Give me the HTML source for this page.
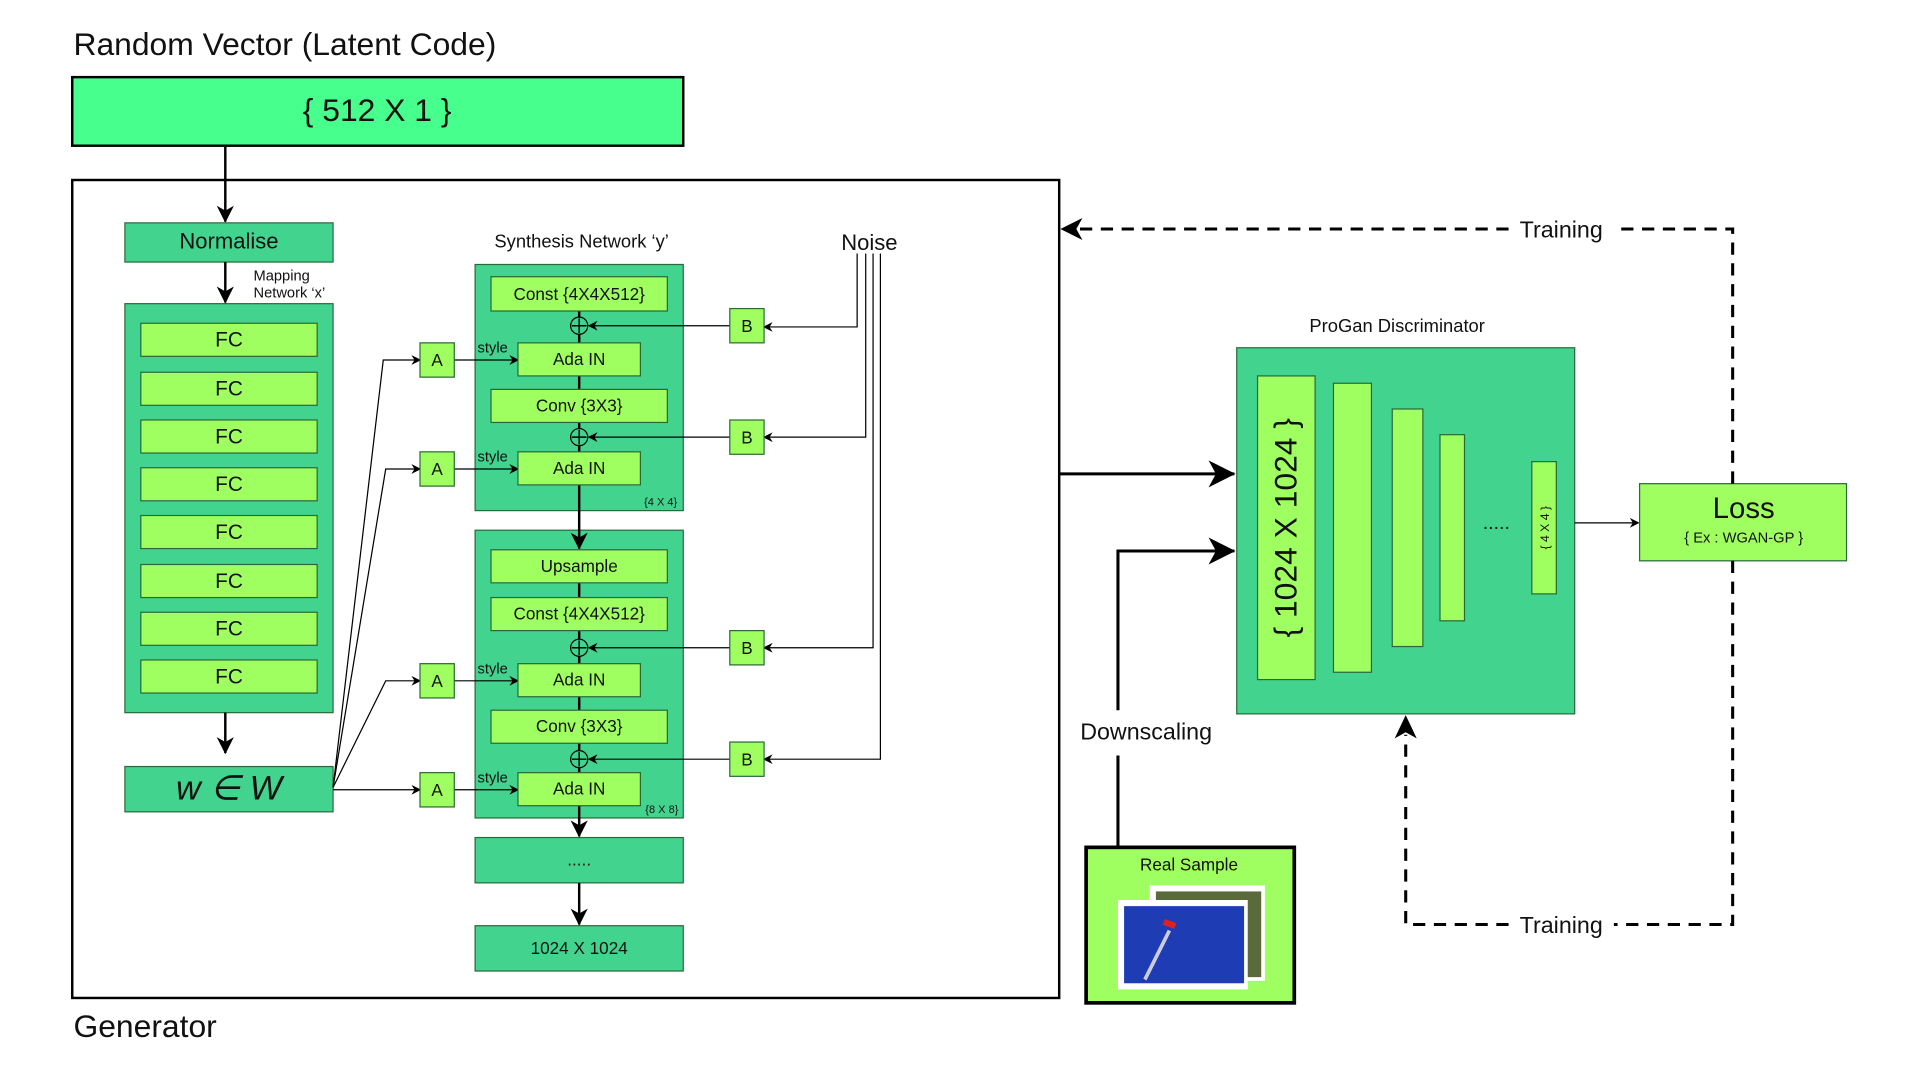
<!DOCTYPE html>
<html><head><meta charset="utf-8"><style>
html,body{margin:0;padding:0;background:#fff;}
svg{display:block;}
text{font-family:"Liberation Sans",sans-serif;fill:#111;}
</style></head><body>
<svg width="1920" height="1080" viewBox="0 0 1568 882" xmlns="http://www.w3.org/2000/svg">
<defs>
<marker id="a" markerWidth="8" markerHeight="8" refX="7" refY="4" orient="auto" markerUnits="userSpaceOnUse"><path d="M0,0 L8,4 L0,8 L2.5,4 Z" fill="#000"/></marker>
<marker id="b" markerWidth="14" markerHeight="14" refX="13" refY="7" orient="auto" markerUnits="userSpaceOnUse"><path d="M0,0 L14,7 L0,14 L4,7 Z" fill="#000"/></marker>
<marker id="c" markerWidth="22" markerHeight="22" refX="21" refY="11" orient="auto" markerUnits="userSpaceOnUse"><path d="M0,0 L22,11 L0,22 L6,11 Z" fill="#000"/></marker>
</defs>
<g font-size="26">
<text x="60" y="45">Random Vector (Latent Code)</text>
<text x="60" y="847">Generator</text>
</g>
<rect x="59" y="63" width="499" height="56" fill="#46ff8c" stroke="#000" stroke-width="2"/>
<text x="308" y="99" font-size="26" text-anchor="middle">{ 512 X 1 }</text>
<line x1="184" y1="120" x2="184" y2="181" stroke="#000" stroke-width="2" marker-end="url(#b)"/>
<rect x="59" y="147" width="806" height="668" fill="none" stroke="#000" stroke-width="2"/>

<g stroke="#2a6a3a" stroke-width="1">
<rect x="102" y="182" width="170" height="32" fill="#42d48f"/>
<rect x="102" y="248" width="170" height="334" fill="#42d48f"/>
<rect x="102" y="626" width="170" height="37" fill="#42d48f"/>
<rect x="388" y="216" width="170" height="201" fill="#42d48f"/>
<rect x="388" y="433" width="170" height="235" fill="#42d48f"/>
<rect x="388" y="684" width="170" height="37" fill="#42d48f"/>
<rect x="388" y="756" width="170" height="37" fill="#42d48f"/>
<rect x="1010" y="284" width="276" height="299" fill="#42d48f"/>
</g>
<text x="187" y="203" font-size="18" text-anchor="middle">Normalise</text>
<line x1="184" y1="214" x2="184" y2="247" stroke="#000" stroke-width="2" marker-end="url(#b)"/>
<text x="207" y="229" font-size="12">Mapping</text>
<text x="207" y="243" font-size="12">Network ‘x’</text>
<g fill="#a0ff60" stroke="#2a6a3a" stroke-width="1">
<rect x="115" y="264" width="144" height="27"/>
<rect x="115" y="304" width="144" height="27"/>
<rect x="115" y="343" width="144" height="27"/>
<rect x="115" y="382" width="144" height="27"/>
<rect x="115" y="421" width="144" height="27"/>
<rect x="115" y="461" width="144" height="27"/>
<rect x="115" y="500" width="144" height="27"/>
<rect x="115" y="539" width="144" height="27"/>
</g>
<g font-size="17" text-anchor="middle">
<text x="187" y="283">FC</text><text x="187" y="323">FC</text><text x="187" y="362">FC</text><text x="187" y="401">FC</text>
<text x="187" y="440">FC</text><text x="187" y="480">FC</text><text x="187" y="519">FC</text><text x="187" y="558">FC</text>
</g>
<line x1="184" y1="582" x2="184" y2="615" stroke="#000" stroke-width="2" marker-end="url(#b)"/>
<text x="187" y="653" font-size="28" text-anchor="middle" font-style="italic">w ∈ W</text>

<g stroke="#000" stroke-width="1" fill="none" marker-end="url(#a)">
<polyline points="272,643 313,294 343,294"/>
<polyline points="272,643 315,383 343,383"/>
<polyline points="272,643 315,556 343,556"/>
<polyline points="272,645 343,645"/>
<line x1="371" y1="294" x2="423" y2="294"/>
<line x1="371" y1="383" x2="423" y2="383"/>
<line x1="371" y1="556" x2="423" y2="556"/>
<line x1="371" y1="645" x2="423" y2="645"/>
<line x1="596" y1="266" x2="481" y2="266"/>
<line x1="596" y1="357" x2="481" y2="357"/>
<line x1="596" y1="529" x2="481" y2="529"/>
<line x1="596" y1="620" x2="481" y2="620"/>
<polyline points="700,207 700,267 624,267"/>
<polyline points="707,207 707,357 624,357"/>
<polyline points="713,207 713,529 624,529"/>
<polyline points="719,207 719,620 624,620"/>
</g>
<g fill="#a0ff60" stroke="#2a6a3a" stroke-width="1">
<rect x="343" y="280" width="28" height="28"/><rect x="343" y="369" width="28" height="28"/>
<rect x="343" y="542" width="28" height="28"/><rect x="343" y="631" width="28" height="28"/>
<rect x="596" y="252" width="28" height="28"/><rect x="596" y="343" width="28" height="28"/>
<rect x="596" y="515" width="28" height="28"/><rect x="596" y="606" width="28" height="28"/>
</g>
<g font-size="14" text-anchor="middle">
<text x="357" y="299">A</text><text x="357" y="388">A</text><text x="357" y="561">A</text><text x="357" y="650">A</text>
<text x="610" y="271">B</text><text x="610" y="362">B</text><text x="610" y="534">B</text><text x="610" y="625">B</text>
</g>
<text x="710" y="204" font-size="18" text-anchor="middle">Noise</text>
<text x="475" y="202" font-size="15" text-anchor="middle">Synthesis Network ‘y’</text>

<g stroke="#000" stroke-width="2">
<line x1="473" y1="254" x2="473" y2="280"/><line x1="473" y1="307" x2="473" y2="318"/>
<line x1="473" y1="345" x2="473" y2="369"/>
<line x1="473" y1="476" x2="473" y2="488"/><line x1="473" y1="515" x2="473" y2="542"/>
<line x1="473" y1="569" x2="473" y2="580"/><line x1="473" y1="607" x2="473" y2="631"/>
</g>
<g stroke="#000" stroke-width="2" marker-end="url(#b)">
<line x1="473" y1="396" x2="473" y2="448"/>
<line x1="473" y1="658" x2="473" y2="683"/>
<line x1="473" y1="721" x2="473" y2="755"/>
</g>
<g fill="#a0ff60" stroke="#2a6a3a" stroke-width="1">
<rect x="401" y="226" width="144" height="28"/><rect x="423" y="280" width="100" height="27"/>
<rect x="401" y="318" width="144" height="27"/><rect x="423" y="369" width="100" height="27"/>
<rect x="401" y="449" width="144" height="27"/><rect x="401" y="488" width="144" height="27"/>
<rect x="423" y="542" width="100" height="27"/><rect x="401" y="580" width="144" height="27"/>
<rect x="423" y="631" width="100" height="27"/>
</g>
<g fill="#42d48f" stroke="#000" stroke-width="1">
<circle cx="473" cy="266" r="7"/><circle cx="473" cy="357" r="7"/>
<circle cx="473" cy="529" r="7"/><circle cx="473" cy="620" r="7"/>
</g>
<g stroke="#000" stroke-width="1.2">
<path d="M467,266h12M473,260v12"/><path d="M467,357h12M473,351v12"/>
<path d="M467,529h12M473,523v12"/><path d="M467,620h12M473,614v12"/>
</g>
<g font-size="14" text-anchor="middle">
<text x="473" y="245">Const {4X4X512}</text><text x="473" y="298">Ada IN</text>
<text x="473" y="336">Conv {3X3}</text><text x="473" y="387">Ada IN</text>
<text x="473" y="467">Upsample</text><text x="473" y="506">Const {4X4X512}</text>
<text x="473" y="560">Ada IN</text><text x="473" y="598">Conv {3X3}</text>
<text x="473" y="649">Ada IN</text>
<text x="473" y="707">.....</text><text x="473" y="779">1024 X 1024</text>
</g>
<g font-size="12"><text x="390" y="288">style</text><text x="390" y="377">style</text><text x="390" y="550">style</text><text x="390" y="639">style</text></g>
<g font-size="9"><text x="526" y="413">{4 X 4}</text><text x="527" y="664">{8 X 8}</text></g>

<line x1="865" y1="387" x2="1008" y2="387" stroke="#000" stroke-width="2.5" marker-end="url(#c)"/>
<polyline points="913,580 913,450 1008,450" fill="none" stroke="#000" stroke-width="2.5" marker-end="url(#c)"/>
<line x1="913" y1="617" x2="913" y2="692" stroke="#000" stroke-width="2.5"/>
<text x="936" y="604" font-size="19" text-anchor="middle">Downscaling</text>
<rect x="887" y="692" width="170" height="127" fill="#a0ff60" stroke="#000" stroke-width="3"/>
<text x="971" y="711" font-size="14" text-anchor="middle">Real Sample</text>
<rect x="939" y="723" width="94" height="78" fill="#fff"/>
<rect x="944" y="728" width="86" height="70" fill="#5a6a3a"/>
<rect x="913" y="735" width="106" height="73" fill="#fff"/>
<rect x="918" y="740" width="98" height="63" fill="#1e3cb4"/>
<path d="M935,800 L955,760" stroke="#ccd" stroke-width="3"/>
<rect x="950" y="752" width="10" height="5" fill="#e02020" transform="rotate(20 955 755)"/>

<text x="1141" y="271" font-size="15" text-anchor="middle">ProGan Discriminator</text>
<g fill="#a0ff60" stroke="#2a6a3a" stroke-width="1">
<rect x="1027" y="307" width="47" height="248"/><rect x="1089" y="313" width="31" height="236"/>
<rect x="1137" y="334" width="25" height="194"/><rect x="1176" y="355" width="20" height="152"/>
<rect x="1251" y="377" width="20" height="108"/>
</g>
<text transform="translate(1059,431) rotate(-90)" font-size="26" text-anchor="middle">{ 1024 X 1024 }</text>
<text transform="translate(1265,431) rotate(-90)" font-size="10" text-anchor="middle">{ 4 X 4 }</text>
<text x="1222" y="432" font-size="16" text-anchor="middle">.....</text>
<line x1="1286" y1="427" x2="1338" y2="427" stroke="#000" stroke-width="1" marker-end="url(#a)"/>
<rect x="1339" y="395" width="169" height="63" fill="#a0ff60" stroke="#2a6a3a" stroke-width="1"/>
<text x="1424" y="423" font-size="24" text-anchor="middle">Loss</text>
<text x="1424" y="443" font-size="12" text-anchor="middle">{ Ex : WGAN-GP }</text>

<g stroke="#000" stroke-width="2.5" fill="none" stroke-dasharray="10,7">
<polyline points="1415,395 1415,187 1318,187"/>
<line x1="1232" y1="187" x2="872" y2="187"/>
<polyline points="1415,458 1415,755 1318,755"/>
<polyline points="1232,755 1148,755 1148,600"/>
</g>
<path d="M866,187 L884,178 L879,187 L884,196 Z" fill="#000"/>
<path d="M1148,584 L1139,603 L1148,598 L1157,603 Z" fill="#000"/>
<g font-size="19" text-anchor="middle"><text x="1275" y="194">Training</text><text x="1275" y="762">Training</text></g>
</svg>
</body></html>
